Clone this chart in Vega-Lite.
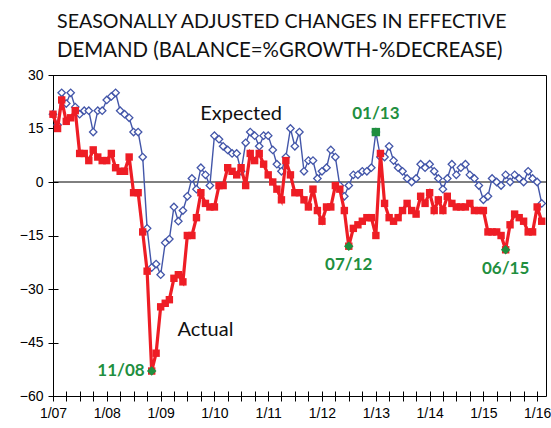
{
  "$schema": "https://vega.github.io/schema/vega-lite/v6.json",
  "width": 493,
  "height": 321,
  "autosize": "none",
  "padding": {"left": 53, "top": 75, "right": 5, "bottom": 32},
  "background": "white",
  "title": {
    "text": "SEASONALLY ADJUSTED CHANGES IN EFFECTIVE",
    "subtitle": "DEMAND (BALANCE=%GROWTH-%DECREASE)",
    "anchor": "start",
    "frame": "group",
    "font": "Lato",
    "fontSize": 19.6,
    "fontWeight": "normal",
    "color": "#111111",
    "subtitleFont": "Lato",
    "subtitleFontSize": 20.4,
    "subtitleColor": "#111111",
    "subtitlePadding": 8,
    "offset": 6,
    "dx": 4
  },
  "config": {
    "view": {"stroke": "black", "strokeWidth": 1},
    "axis": {"labelColor": "black", "tickColor": "black"}
  },
  "datasets": {
    "series": [
      {"date":"2007-01-01","act":19,"exp":19},{"date":"2007-02-01","act":15,"exp":16},{"date":"2007-03-01","act":23,"exp":25},{"date":"2007-04-01","act":17,"exp":22},{"date":"2007-05-01","act":18,"exp":25},{"date":"2007-06-01","act":20,"exp":21},{"date":"2007-07-01","act":8,"exp":19},{"date":"2007-08-01","act":8,"exp":20},{"date":"2007-09-01","act":6,"exp":20},{"date":"2007-10-01","act":9,"exp":14},{"date":"2007-11-01","act":7,"exp":20},{"date":"2007-12-01","act":6,"exp":20},
      {"date":"2008-01-01","act":6,"exp":23},{"date":"2008-02-01","act":8,"exp":24},{"date":"2008-03-01","act":4,"exp":25},{"date":"2008-04-01","act":3,"exp":20},{"date":"2008-05-01","act":3,"exp":19},{"date":"2008-06-01","act":7,"exp":18},{"date":"2008-07-01","act":-3,"exp":14},{"date":"2008-08-01","act":-3,"exp":14},{"date":"2008-09-01","act":-14,"exp":7},{"date":"2008-10-01","act":-25,"exp":-13},{"date":"2008-11-01","act":-53,"exp":-24},{"date":"2008-12-01","act":-48,"exp":-23},
      {"date":"2009-01-01","act":-35,"exp":-26},{"date":"2009-02-01","act":-34,"exp":-17},{"date":"2009-03-01","act":-33,"exp":-16},{"date":"2009-04-01","act":-27,"exp":-7},{"date":"2009-05-01","act":-26,"exp":-11},{"date":"2009-06-01","act":-28,"exp":-8},{"date":"2009-07-01","act":-15,"exp":-4},{"date":"2009-08-01","act":-15,"exp":1},{"date":"2009-09-01","act":-10,"exp":-2},{"date":"2009-10-01","act":-3,"exp":4},{"date":"2009-11-01","act":-6,"exp":2},{"date":"2009-12-01","act":-7,"exp":-1},
      {"date":"2010-01-01","act":-7,"exp":13},{"date":"2010-02-01","act":-1,"exp":12},{"date":"2010-03-01","act":-1,"exp":10},{"date":"2010-04-01","act":4,"exp":9},{"date":"2010-05-01","act":3,"exp":8},{"date":"2010-06-01","act":2,"exp":8},{"date":"2010-07-01","act":4,"exp":3},{"date":"2010-08-01","act":-1,"exp":11},{"date":"2010-09-01","act":8,"exp":14},{"date":"2010-10-01","act":6,"exp":13},{"date":"2010-11-01","act":8,"exp":10},{"date":"2010-12-01","act":5,"exp":13},
      {"date":"2011-01-01","act":2,"exp":13},{"date":"2011-02-01","act":0,"exp":9},{"date":"2011-03-01","act":-2,"exp":5},{"date":"2011-04-01","act":-5,"exp":3},{"date":"2011-05-01","act":6,"exp":7},{"date":"2011-06-01","act":2,"exp":15},{"date":"2011-07-01","act":-3,"exp":10},{"date":"2011-08-01","act":-3,"exp":14},{"date":"2011-09-01","act":-5,"exp":3},{"date":"2011-10-01","act":-7,"exp":6},{"date":"2011-11-01","act":-2,"exp":6},{"date":"2011-12-01","act":-8,"exp":1},
      {"date":"2012-01-01","act":-11,"exp":3},{"date":"2012-02-01","act":-7,"exp":4},{"date":"2012-03-01","act":-7,"exp":9},{"date":"2012-04-01","act":-1,"exp":7},{"date":"2012-05-01","act":-2,"exp":-1},{"date":"2012-06-01","act":-8,"exp":-4},{"date":"2012-07-01","act":-18,"exp":-1},{"date":"2012-08-01","act":-13,"exp":2},{"date":"2012-09-01","act":-12,"exp":2},{"date":"2012-10-01","act":-11,"exp":3},{"date":"2012-11-01","act":-10,"exp":3},{"date":"2012-12-01","act":-10,"exp":4},
      {"date":"2013-01-01","act":-15,"exp":14},{"date":"2013-02-01","act":8,"exp":7},{"date":"2013-03-01","act":-6,"exp":7},{"date":"2013-04-01","act":-10,"exp":10},{"date":"2013-05-01","act":-11,"exp":6},{"date":"2013-06-01","act":-10,"exp":4},{"date":"2013-07-01","act":-8,"exp":3},{"date":"2013-08-01","act":-6,"exp":1},{"date":"2013-09-01","act":-8,"exp":0},{"date":"2013-10-01","act":-9,"exp":1},{"date":"2013-11-01","act":-4,"exp":5},{"date":"2013-12-01","act":-6,"exp":4},
      {"date":"2014-01-01","act":-3,"exp":5},{"date":"2014-02-01","act":-8,"exp":3},{"date":"2014-03-01","act":-5,"exp":1},{"date":"2014-04-01","act":-8,"exp":-2},{"date":"2014-05-01","act":-4,"exp":1},{"date":"2014-06-01","act":-6,"exp":5},{"date":"2014-07-01","act":-7,"exp":2},{"date":"2014-08-01","act":-7,"exp":4},{"date":"2014-09-01","act":-7,"exp":5},{"date":"2014-10-01","act":-6,"exp":2},{"date":"2014-11-01","act":-8,"exp":1},{"date":"2014-12-01","act":-8,"exp":-1},
      {"date":"2015-01-01","act":-8,"exp":-5},{"date":"2015-02-01","act":-14,"exp":-4},{"date":"2015-03-01","act":-14,"exp":1},{"date":"2015-04-01","act":-14,"exp":0},{"date":"2015-05-01","act":-15,"exp":-1},{"date":"2015-06-01","act":-19,"exp":2},{"date":"2015-07-01","act":-12,"exp":0},{"date":"2015-08-01","act":-9,"exp":2},{"date":"2015-09-01","act":-10,"exp":1},{"date":"2015-10-01","act":-11,"exp":0},{"date":"2015-11-01","act":-14,"exp":3},{"date":"2015-12-01","act":-14,"exp":1},
      {"date":"2016-01-01","act":-7,"exp":0},{"date":"2016-02-01","act":-11,"exp":-6}
    ],
    "marks": [
      {"date":"2008-11-01","value":-53,"label":"11/08"},
      {"date":"2012-07-01","value":-18,"label":"07/12"},
      {"date":"2013-01-01","value":14,"label":"01/13"},
      {"date":"2015-06-01","value":-19,"label":"06/15"}
    ],
    "names": [
      {"date":"2010-07-01","value":19,"label":"Expected"},
      {"date":"2009-11-01","value":-41.5,"label":"Actual"}
    ]
  },
  "layer": [
    {
      "data": {"values": [{"value": 0}]},
      "mark": {"type": "rule", "color": "black", "strokeWidth": 1},
      "encoding": {"y": {"field": "value", "type": "quantitative"}}
    },
    {
      "data": {"name": "series"},
      "mark": {"type": "line", "color": "#4356A9", "strokeWidth": 1.4},
      "encoding": {
        "x": {
          "field": "date", "type": "temporal",
          "scale": {"type": "utc", "domain": [{"year": 2007, "month": 1, "date": 1, "utc": true}, {"year": 2016, "month": 3, "date": 1, "utc": true}]},
          "axis": {
            "title": null, "grid": false, "domain": false, "offset": -5, "tickSize": 10, "tickWidth": 1,
            "tickCount": {"interval": "month", "step": 3},
            "labelExpr": "utcmonth(datum.value) == 0 ? '1/' + utcFormat(datum.value, '%y') : ''",
            "labelOverlap": false, "labelFlush": false, "labelFont": "Liberation Sans", "labelFontSize": 14, "labelPadding": 5
          }
        },
        "y": {
          "field": "exp", "type": "quantitative",
          "scale": {"domain": [-60, 30], "nice": false, "zero": false},
          "axis": {
            "title": null, "grid": false, "domain": false, "offset": -5, "tickSize": 10, "tickWidth": 1,
            "values": [-60, -45, -30, -15, 0, 15, 30],
            "labelFont": "Liberation Sans", "labelFontSize": 14, "labelPadding": 5
          }
        }
      }
    },
    {
      "data": {"name": "series"},
      "mark": {"type": "point", "shape": "diamond", "size": 55, "filled": true, "fill": "white", "stroke": "#4356A9", "strokeWidth": 1.3, "opacity": 1},
      "encoding": {
        "x": {"field": "date", "type": "temporal"},
        "y": {"field": "exp", "type": "quantitative"}
      }
    },
    {
      "data": {"name": "series"},
      "mark": {"type": "line", "color": "#EE1D25", "strokeWidth": 3.2},
      "encoding": {
        "x": {"field": "date", "type": "temporal"},
        "y": {"field": "act", "type": "quantitative"}
      }
    },
    {
      "data": {"name": "series"},
      "mark": {"type": "square", "size": 55, "color": "#EE1D25", "opacity": 1},
      "encoding": {
        "x": {"field": "date", "type": "temporal"},
        "y": {"field": "act", "type": "quantitative"}
      }
    },
    {
      "data": {"name": "marks"},
      "transform": [{"filter": "datum.label != '01/13'"}],
      "mark": {"type": "point", "shape": "diamond", "size": 90, "filled": true, "color": "#1F8F3F", "opacity": 1},
      "encoding": {
        "x": {"field": "date", "type": "temporal"},
        "y": {"field": "value", "type": "quantitative"}
      }
    },
    {
      "data": {"name": "marks"},
      "transform": [{"filter": "datum.label == '01/13'"}],
      "mark": {"type": "square", "size": 70, "color": "#1F8F3F", "opacity": 1},
      "encoding": {
        "x": {"field": "date", "type": "temporal"},
        "y": {"field": "value", "type": "quantitative"}
      }
    },
    {
      "data": {"name": "marks"},
      "transform": [{"filter": "datum.label == '11/08'"}],
      "mark": {"type": "text", "align": "right", "baseline": "middle", "dx": -7, "font": "Lato", "fontSize": 17, "fontWeight": "bold", "color": "#1F8F3F"},
      "encoding": {
        "x": {"field": "date", "type": "temporal"},
        "y": {"field": "value", "type": "quantitative"},
        "text": {"field": "label"}
      }
    },
    {
      "data": {"name": "marks"},
      "transform": [{"filter": "datum.label == '07/12' || datum.label == '06/15'"}],
      "mark": {"type": "text", "align": "center", "baseline": "top", "dy": 11, "font": "Lato", "fontSize": 17, "fontWeight": "bold", "color": "#1F8F3F"},
      "encoding": {
        "x": {"field": "date", "type": "temporal"},
        "y": {"field": "value", "type": "quantitative"},
        "text": {"field": "label"}
      }
    },
    {
      "data": {"name": "marks"},
      "transform": [{"filter": "datum.label == '01/13'"}],
      "mark": {"type": "text", "align": "center", "baseline": "bottom", "dy": -9, "font": "Lato", "fontSize": 17, "fontWeight": "bold", "color": "#1F8F3F"},
      "encoding": {
        "x": {"field": "date", "type": "temporal"},
        "y": {"field": "value", "type": "quantitative"},
        "text": {"field": "label"}
      }
    },
    {
      "data": {"name": "names"},
      "mark": {"type": "text", "align": "center", "baseline": "middle", "font": "Lato", "fontSize": 20, "color": "#111111"},
      "encoding": {
        "x": {"field": "date", "type": "temporal"},
        "y": {"field": "value", "type": "quantitative"},
        "text": {"field": "label"}
      }
    }
  ]
}
